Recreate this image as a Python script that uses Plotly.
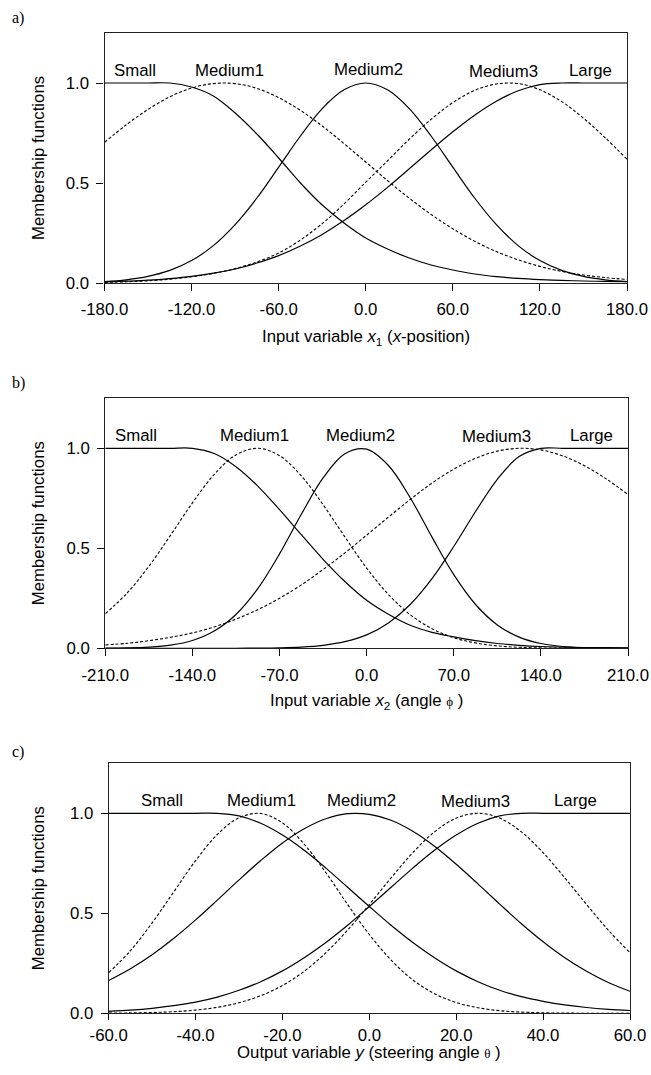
import plotly.graph_objects as go

# ---------------- data ----------------
# panel a)
x_a = [-180, -165, -150, -135, -120, -105, -90, -75, -60, -45, -30, -15, 0,
       15, 30, 45, 60, 75, 90, 105, 120, 135, 150, 165, 180]
small_a = [1.0, 1.0, 1.0, 1.0, 0.98, 0.935, 0.85, 0.745, 0.625, 0.50, 0.39, 0.30, 0.225,
           0.17, 0.125, 0.09, 0.065, 0.045, 0.032, 0.023, 0.017, 0.013, 0.010, 0.008, 0.007]
medium1_a = [0.703, 0.791, 0.868, 0.931, 0.975, 0.997, 0.997, 0.973, 0.927, 0.863, 0.785, 0.697, 0.605,
             0.512, 0.424, 0.343, 0.271, 0.209, 0.157, 0.116, 0.083, 0.058, 0.040, 0.027, 0.018]
medium2_a = [0.007, 0.016, 0.033, 0.063, 0.112, 0.187, 0.292, 0.425, 0.579, 0.735, 0.872, 0.966, 1.0,
             0.966, 0.872, 0.735, 0.579, 0.425, 0.292, 0.187, 0.112, 0.063, 0.033, 0.016, 0.007]
medium3_a = [0.003, 0.006, 0.011, 0.019, 0.031, 0.048, 0.072, 0.105, 0.150, 0.215, 0.297, 0.395, 0.504,
             0.611, 0.719, 0.818, 0.902, 0.963, 0.995, 0.997, 0.966, 0.907, 0.824, 0.726, 0.619]
large_a = [0.005, 0.009, 0.014, 0.022, 0.033, 0.049, 0.070, 0.100, 0.137, 0.185, 0.243, 0.312, 0.391,
           0.478, 0.571, 0.665, 0.756, 0.839, 0.909, 0.961, 0.992, 1.0, 1.0, 1.0, 1.0]

# panel b)
x_b = [-210, -192.5, -175, -157.5, -140, -122.5, -105, -87.5, -70, -52.5, -35, -17.5, 0,
       17.5, 35, 52.5, 70, 87.5, 105, 122.5, 140, 157.5, 175, 192.5, 210]
small_b = [1.0, 1.0, 1.0, 1.0, 1.0, 0.974, 0.908, 0.811, 0.693, 0.568, 0.445, 0.334, 0.240,
           0.17, 0.115, 0.08, 0.057, 0.038, 0.024, 0.015, 0.009, 0.006, 0.004, 0.003, 0.002]
medium1_b = [0.173, 0.276, 0.410, 0.566, 0.727, 0.869, 0.967, 1.0, 0.963, 0.862, 0.718, 0.557, 0.401,
             0.269, 0.168, 0.098, 0.053, 0.027, 0.012, 0.005, 0.002, 0.001, 0.0005, 0.0, 0.0]
medium2_b = [0.0006, 0.002, 0.006, 0.016, 0.039, 0.086, 0.169, 0.298, 0.472, 0.670, 0.852, 0.973, 0.996,
             0.914, 0.753, 0.556, 0.368, 0.219, 0.117, 0.056, 0.024, 0.009, 0.003, 0.001, 0.0003]
medium3_b = [0.017, 0.025, 0.038, 0.055, 0.077, 0.107, 0.146, 0.193, 0.250, 0.317, 0.394, 0.477, 0.566,
             0.656, 0.744, 0.826, 0.896, 0.950, 0.986, 1.0, 0.992, 0.962, 0.913, 0.847, 0.769]
large_b = [0.0, 0.0, 0.0, 0.0, 0.0, 0.0001, 0.0003, 0.0008, 0.0023, 0.0061, 0.015, 0.033, 0.067,
           0.127, 0.219, 0.348, 0.509, 0.684, 0.845, 0.959, 1.0, 1.0, 1.0, 1.0, 1.0]

# panel c)
x_c = [-60, -55, -50, -45, -40, -35, -30, -25, -20, -15, -10, -5, 0,
       5, 10, 15, 20, 25, 30, 35, 40, 45, 50, 55, 60]
small_c = [1.0, 1.0, 1.0, 1.0, 1.0, 1.0, 0.987, 0.950, 0.891, 0.815, 0.726, 0.630, 0.534,
           0.440, 0.354, 0.278, 0.212, 0.158, 0.115, 0.083, 0.060, 0.042, 0.029, 0.020, 0.014]
medium1_c = [0.203, 0.313, 0.452, 0.608, 0.763, 0.894, 0.978, 0.999, 0.952, 0.846, 0.703, 0.544, 0.394,
             0.266, 0.167, 0.098, 0.054, 0.028, 0.013, 0.006, 0.0025, 0.001, 0.0004, 0.0001, 0.0]
medium2_c = [0.164, 0.223, 0.293, 0.375, 0.467, 0.566, 0.667, 0.764, 0.852, 0.923, 0.973, 0.998, 0.995,
             0.965, 0.910, 0.835, 0.745, 0.647, 0.546, 0.448, 0.358, 0.278, 0.210, 0.154, 0.110]
medium3_c = [0.001, 0.002, 0.004, 0.008, 0.016, 0.030, 0.053, 0.088, 0.139, 0.210, 0.303, 0.416, 0.544,
             0.677, 0.803, 0.907, 0.976, 1.0, 0.976, 0.907, 0.803, 0.677, 0.544, 0.416, 0.303]
large_c = [0.010, 0.016, 0.025, 0.038, 0.056, 0.081, 0.115, 0.158, 0.212, 0.278, 0.354, 0.440, 0.534,
           0.630, 0.726, 0.815, 0.891, 0.950, 0.987, 1.0, 1.0, 1.0, 1.0, 1.0, 1.0]

# tick values / labels
xticks_a = [-180, -120, -60, 0, 60, 120, 180]
xticktext_a = ["-180.0", "-120.0", "-60.0", "0.0", "60.0", "120.0", "180.0"]
xticks_b = [-210, -140, -70, 0, 70, 140, 210]
xticktext_b = ["-210.0", "-140.0", "-70.0", "0.0", "70.0", "140.0", "210.0"]
xticks_c = [-60, -40, -20, 0, 20, 40, 60]
xticktext_c = ["-60.0", "-40.0", "-20.0", "0.0", "20.0", "40.0", "60.0"]
yticks = [0.0, 0.5, 1.0]
yticktext = ["0.0", "0.5", "1.0"]

mf_names = ["Small", "Medium1", "Medium2", "Medium3", "Large"]
label_x_a = [-159, -94, 2, 95, 155]
label_x_b = [-185, -90, -5, 104, 181]
label_x_c = [-47.7, -24.9, -1.8, 24.4, 47.4]
label_y = [1.063, 1.063, 1.065, 1.058, 1.063]

# ---------------- figure ----------------
W, H = 651, 1075
SANS = "Liberation Sans, Arial, sans-serif"
SERIF = "Liberation Serif, Times New Roman, serif"
FS = 16.8

fig = go.Figure()

panels = [
    dict(x=x_a, series=[small_a, medium1_a, medium2_a, medium3_a, large_a], xr="x", yr="y",
         rng=[-180, 180], tv=xticks_a, tt=xticktext_a, lx=label_x_a,
         px=(104.5, 627), pb=283, standoff=4, tl=7),
    dict(x=x_b, series=[small_b, medium1_b, medium2_b, medium3_b, large_b], xr="x2", yr="y2",
         rng=[-210, 210], tv=xticks_b, tt=xticktext_b, lx=label_x_b,
         px=(105.3, 628), pb=648.3, standoff=4, tl=7),
    dict(x=x_c, series=[small_c, medium1_c, medium2_c, medium3_c, large_c], xr="x3", yr="y3",
         rng=[-60, 60], tv=xticks_c, tt=xticktext_c, lx=label_x_c,
         px=(108.7, 630), pb=1013.3, standoff=0, tl=6),
]
dashes = ["solid", "3px,2px", "solid", "3px,2px", "solid"]

for i, p in enumerate(panels):
    for s, d in zip(p["series"], dashes):
        fig.add_trace(go.Scatter(
            x=p["x"], y=s, mode="lines", xaxis=p["xr"], yaxis=p["yr"],
            line=dict(color="black", width=1.2 if d == "solid" else 1.1, dash=d,
                      shape="spline", smoothing=1.0),
            showlegend=False, hoverinfo="skip"))
    sfx = "" if i == 0 else str(i + 1)
    top = p["pb"] - 250
    fig.update_layout(**{
        "xaxis" + sfx: dict(
            domain=[p["px"][0] / W, p["px"][1] / W], anchor="y" + sfx, range=p["rng"],
            tickmode="array", tickvals=p["tv"], ticktext=p["tt"], ticks="outside",
            ticklen=p["tl"], tickwidth=1, tickcolor="black", showline=True, linecolor="#222",
            linewidth=1.2, mirror=True, showgrid=False, zeroline=False, automargin=False,
            tickfont=dict(family=SANS, size=FS, color="black"),
            ticklabelstandoff=p["standoff"]),
        "yaxis" + sfx: dict(
            domain=[1 - p["pb"] / H, 1 - top / H], anchor="x" + sfx, range=[0, 1.25],
            tickmode="array", tickvals=yticks, ticktext=yticktext, ticks="outside",
            ticklen=7, tickwidth=1, tickcolor="black", showline=True, linecolor="#222",
            linewidth=1.2, mirror=True, showgrid=False, zeroline=False, automargin=False,
            tickfont=dict(family=SANS, size=FS, color="black"),
            ticklabelstandoff=4),
    })
    for name, lx, ly in zip(mf_names, p["lx"], label_y):
        fig.add_annotation(x=lx, y=ly, xref=p["xr"], yref=p["yr"], text=name,
                           showarrow=False, xanchor="center", yanchor="middle",
                           font=dict(family=SANS, size=FS, color="black"))
    # y-axis title
    fig.add_annotation(x=38 / W, y=1 - (p["pb"] - 125) / H, xref="paper", yref="paper",
                       text="Membership functions", textangle=-90, showarrow=False,
                       xanchor="center", yanchor="middle",
                       font=dict(family=SANS, size=FS, color="black"))

# x-axis titles
phi = "<span style='font-family:Liberation Serif;font-size:13px'>\u03d5</span>"
theta = "<span style='font-family:Liberation Serif;font-size:13px'>\u03b8</span>"
xtitles = [
    ("Input variable <i>x</i><sub>1</sub> (<i>x</i>-position)", 365.5, 337),
    ("Input variable <i>x</i><sub>2</sub> (angle " + phi + " )", 366.5, 701.7),
    ("Output variable <i>y</i> (steering angle " + theta + " )", 369, 1052),
]
for t, xp, yp in xtitles:
    fig.add_annotation(x=xp / W, y=1 - yp / H, xref="paper", yref="paper", text=t,
                       showarrow=False, xanchor="center", yanchor="middle",
                       font=dict(family=SANS, size=FS, color="black"))

# panel letters
for t, yp in [("a)", 18), ("b)", 383), ("c)", 752)]:
    fig.add_annotation(x=10 / W, y=1 - yp / H, xref="paper", yref="paper", text=t,
                       showarrow=False, xanchor="left", yanchor="middle",
                       font=dict(family=SERIF, size=16, color="black"))

fig.update_layout(width=W, height=H, autosize=False,
                  margin=dict(l=0, r=0, t=0, b=0, autoexpand=False),
                  paper_bgcolor="white", plot_bgcolor="white")

fig.write_html("out.html")
